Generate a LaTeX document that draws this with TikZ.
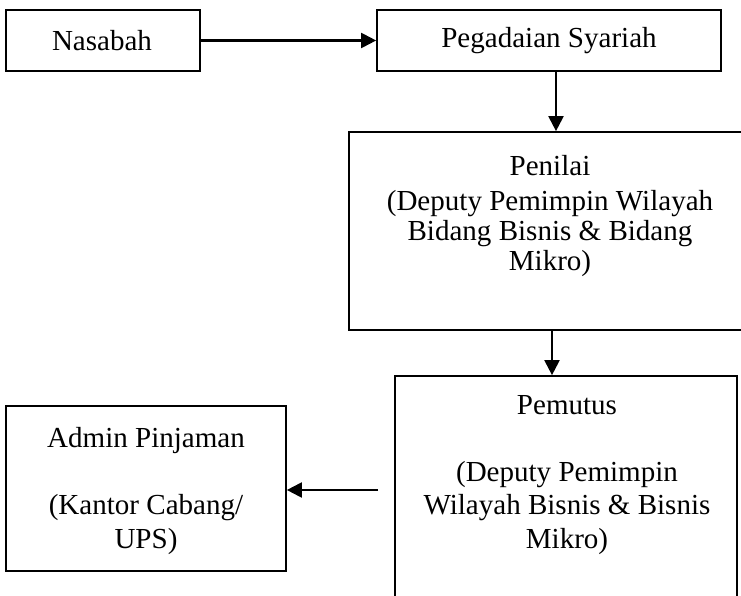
\documentclass[tikz,border=0pt]{standalone}
\usepackage{fontspec}
\setmainfont{Liberation Serif}
\usetikzlibrary{arrows.meta}
\begin{document}
\begin{tikzpicture}[x=0.4132pt,y=-0.4132pt,
  box/.style={draw,line width=0.7pt,rectangle,inner sep=0pt},
  txt/.style={align=center,inner sep=0pt,font=\fontsize{12}{13.8}\selectfont},
  arr/.style={line width=0.85pt,-{Triangle[length=6.2pt,width=6.2pt]}}]
\useasboundingbox (0,0) rectangle (741,596);
% boxes
\node[box,minimum width=194*0.4132pt,minimum height=61*0.4132pt] (nas) at (103,40.5) {};
\node[box,minimum width=344*0.4132pt,minimum height=61*0.4132pt] (peg) at (549,40.5) {};
\node[box,minimum width=403*0.4132pt,minimum height=198*0.4132pt] (pen) at (550.5,231) {};
\node[box,minimum width=342*0.4132pt,minimum height=264*0.4132pt] (pem) at (566,508) {};
\node[box,minimum width=280*0.4132pt,minimum height=165*0.4132pt] (adm) at (146,488.5) {};
% texts
\node[txt] (tnas) at (102,41) {Nasabah};
\node[txt] (tpeg) at (549,41) {Pegadaian Syariah};
\node[txt,font=\fontsize{12}{12.4}\selectfont] (tpen) at (550,216) {Penilai\\[2.4pt](Deputy Pemimpin Wilayah\\Bidang Bisnis \& Bidang\\Mikro)};
\node[txt] (tpem) at (567,475) {Pemutus\\[13.8pt](Deputy Pemimpin\\Wilayah Bisnis \& Bisnis\\Mikro)};
\node[txt] (tadm) at (146,491) {Admin Pinjaman\\[13.8pt](Kantor Cabang/\\UPS)};
% connectors
\coordinate (c1) at (378,490);
\draw[arr] (nas.east) -- (peg.west);
\draw[arr] (peg.south -| 556,0) -- (pen.north -| 556,0);
\draw[arr] (pen.south -| 552,0) -- (pem.north -| 552,0);
\draw[arr] (c1) -- (c1 -| adm.east);
\end{tikzpicture}
\end{document}
